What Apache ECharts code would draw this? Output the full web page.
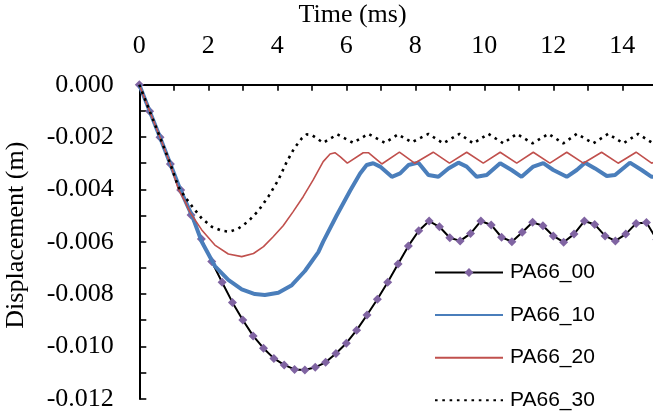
<!DOCTYPE html>
<html>
<head>
<meta charset="utf-8">
<script src="https://cdn.jsdelivr.net/npm/echarts@6/dist/echarts.min.js"></script>
<style>
  html, body { margin: 0; padding: 0; background: #ffffff; }
  #chart { width: 653px; height: 412px; }
</style>
</head>
<body>
<div id="chart"></div>
<script>
// Displacement history of the PA66 specimens (time in ms, displacement in m)
const seriesNames = ['PA66_00', 'PA66_10', 'PA66_20', 'PA66_30'];
const xTickLabels = ['0', '2', '4', '6', '8', '10', '12', '14'];
const yTickLabels = ['0.000', '-0.002', '-0.004', '-0.006', '-0.008', '-0.010', '-0.012'];

const time00 = [0, 0.3, 0.6, 0.9, 1.2, 1.5, 1.8, 2.1, 2.4, 2.7, 3.0, 3.3, 3.6, 3.9, 4.2, 4.5, 4.8,
  5.1, 5.4, 5.7, 6.0, 6.3, 6.6, 6.9, 7.2, 7.5, 7.8, 8.1, 8.4, 8.7, 9.0, 9.3, 9.6, 9.9, 10.2, 10.5,
  10.8, 11.1, 11.4, 11.7, 12.0, 12.3, 12.6, 12.9, 13.2, 13.5, 13.8, 14.1, 14.4, 14.7, 15.0];
const disp00 = [0, -0.00101, -0.00201, -0.00303, -0.00402, -0.00498, -0.00590, -0.00676, -0.00755,
  -0.00832, -0.00899, -0.00960, -0.01007, -0.01046, -0.01071, -0.01088, -0.01090, -0.01080, -0.01061,
  -0.01027, -0.00988, -0.00938, -0.00880, -0.00820, -0.00755, -0.00685, -0.00616, -0.00558, -0.00521,
  -0.00543, -0.00585, -0.00597, -0.00569, -0.00521, -0.00536, -0.00583, -0.00600, -0.00564, -0.00526,
  -0.00539, -0.00578, -0.00602, -0.00571, -0.00521, -0.00534, -0.00578, -0.00597, -0.00571, -0.00530,
  -0.00527, -0.00592];

const time10 = [0, 0.3, 0.6, 0.9, 1.2, 1.54, 1.81, 2.19, 2.58, 2.97, 3.35, 3.64, 4.03, 4.42, 4.8,
  5.19, 5.33, 5.72, 6.11, 6.4, 6.59, 6.78, 6.98, 7.32, 7.56, 7.8, 8.09, 8.38, 8.67, 8.96, 9.25, 9.49,
  9.78, 10.07, 10.46, 10.79, 11.08, 11.42, 11.71, 12.0, 12.39, 12.68, 12.92, 13.21, 13.55, 13.79,
  14.22, 14.56, 14.85, 15];
const disp10 = [0, -0.00101, -0.00201, -0.00303, -0.00405, -0.00504, -0.00600, -0.00693, -0.00746,
  -0.00782, -0.00800, -0.00804, -0.00795, -0.00766, -0.00712, -0.00640, -0.00600, -0.00500, -0.00405,
  -0.00339, -0.00307, -0.00300, -0.00313, -0.00352, -0.00339, -0.00307, -0.00298, -0.00345, -0.00352,
  -0.00320, -0.00298, -0.00313, -0.00352, -0.00345, -0.00300, -0.00326, -0.00352, -0.00313, -0.00300,
  -0.00326, -0.00352, -0.00326, -0.00298, -0.00320, -0.00349, -0.00345, -0.00298, -0.00326, -0.00352,
  -0.00352];

const time20 = [0, 0.3, 0.6, 0.9, 1.13, 1.32, 1.47, 1.81, 2.19, 2.58, 2.97, 3.31, 3.6, 3.88, 4.17,
  4.46, 4.75, 5.04, 5.33, 5.53, 5.67, 5.82, 6.03, 6.49, 6.64, 7.03, 7.54, 7.98, 8.52, 8.99, 9.49,
  9.97, 10.46, 10.94, 11.42, 11.9, 12.39, 12.87, 13.4, 13.88, 14.4, 14.85, 15];
const disp20 = [0, -0.00101, -0.00201, -0.00303, -0.00398, -0.00445, -0.00488, -0.00555, -0.00613,
  -0.00647, -0.00657, -0.00645, -0.00619, -0.00581, -0.00539, -0.00485, -0.00428, -0.00364, -0.00294,
  -0.00265, -0.00260, -0.00275, -0.00300, -0.00260, -0.00260, -0.00303, -0.00258, -0.00300, -0.00258,
  -0.00300, -0.00258, -0.00300, -0.00258, -0.00300, -0.00258, -0.00300, -0.00258, -0.00300, -0.00258,
  -0.00300, -0.00258, -0.00300, -0.00293];

const time30 = [0, 0.3, 0.6, 0.9, 1.13, 1.32, 1.57, 1.81, 2.1, 2.39, 2.61, 2.87, 3.16, 3.45, 3.74,
  4.03, 4.27, 4.49, 4.71, 4.85, 5.0, 5.33, 5.74, 6.2, 6.64, 7.12, 7.5, 7.9, 8.38, 8.81, 9.28, 9.68,
  10.12, 10.55, 10.94, 11.4, 11.86, 12.29, 12.68, 13.16, 13.59, 14.03, 14.46, 14.89, 15];
const disp30 = [0, -0.00101, -0.00201, -0.00303, -0.00390, -0.00428, -0.00472, -0.00511, -0.00543,
  -0.00558, -0.00562, -0.00550, -0.00522, -0.00482, -0.00428, -0.00364, -0.00296, -0.00243, -0.00205,
  -0.00190, -0.00192, -0.00222, -0.00190, -0.00222, -0.00188, -0.00222, -0.00190, -0.00220, -0.00188,
  -0.00224, -0.00188, -0.00224, -0.00188, -0.00224, -0.00188, -0.00224, -0.00188, -0.00224, -0.00188,
  -0.00224, -0.00188, -0.00224, -0.00188, -0.00224, -0.00221];

function pairs(t, v) {
  return t.map(function (x, i) { return [x, v[i]]; });
}

const serif = "'Liberation Serif', 'Times New Roman', serif";
const sans = "'Liberation Sans', Arial, sans-serif";

const chart = echarts.init(document.getElementById('chart'), null, { renderer: 'canvas' });

chart.setOption({
  animation: false,
  backgroundColor: '#ffffff',
  grid: {
    left: 139.3, top: 84.7, right: -3.8, bottom: 13.3,
    containLabel: false,
    outerBoundsMode: 'none'
  },
  legend: {
    orient: 'vertical',
    left: 434,
    top: 262,
    height: 220,
    padding: 0,
    itemWidth: 68,
    itemHeight: 11,
    itemGap: 21.6,
    textStyle: { fontFamily: sans, fontSize: 21, color: '#000000', lineHeight: 21, padding: [0, 0, 0, 2] },
    data: [
      { name: seriesNames[0] },
      { name: seriesNames[1], itemStyle: { opacity: 0 } },
      { name: seriesNames[2], itemStyle: { opacity: 0 } },
      { name: seriesNames[3], itemStyle: { opacity: 0 } }
    ]
  },
  xAxis: {
    type: 'value',
    position: 'top',
    min: 0,
    max: 15,
    interval: 1,
    name: 'Time (ms)',
    nameLocation: 'middle',
    nameGap: 55.5,
    nameTextStyle: { fontFamily: serif, fontSize: 26, color: '#000000', padding: [0, 91, 0, 0] },
    axisLine: { onZero: false, lineStyle: { color: '#000000', width: 2 } },
    axisTick: { inside: true, length: 6, lineStyle: { color: '#000000', width: 1.6 } },
    axisLabel: {
      margin: 25.5,
      fontFamily: serif,
      fontSize: 26,
      color: '#000000',
      formatter: function (v) {
        const s = String(Math.round(v));
        return xTickLabels.indexOf(s) >= 0 && Math.abs(v - Math.round(v)) < 1e-9 ? s : '';
      }
    },
    splitLine: { show: false }
  },
  yAxis: {
    type: 'value',
    min: -0.012,
    max: 0,
    interval: 0.002,
    name: 'Displacement (m)',
    nameLocation: 'middle',
    nameRotate: 90,
    nameGap: 110,
    nameTextStyle: { fontFamily: serif, fontSize: 26, color: '#000000', padding: [0, 0, 0, 13] },
    axisLine: { show: true, onZero: false, lineStyle: { color: '#000000', width: 2 } },
    axisTick: { show: true, inside: true, length: 7, lineStyle: { color: '#000000', width: 1.6 } },
    minorTick: { show: true, splitNumber: 2, length: 7, lineStyle: { color: '#000000', width: 1.6 } },
    axisLabel: {
      margin: 25.5,
      fontFamily: serif,
      fontSize: 26,
      color: '#000000',
      formatter: function (v) {
        const s = (Math.abs(v) < 1e-12 ? 0 : v).toFixed(3);
        return yTickLabels.indexOf(s) >= 0 ? s : '';
      }
    },
    splitLine: { show: false },
    minorSplitLine: { show: false }
  },
  series: [
    {
      name: seriesNames[0],
      type: 'line',
      data: pairs(time00, disp00),
      symbol: 'diamond',
      symbolSize: 9,
      showSymbol: true,
      itemStyle: { color: '#8064A2' },
      lineStyle: { color: '#000000', width: 2 },
      z: 2
    },
    {
      name: seriesNames[1],
      type: 'line',
      data: pairs(time10, disp10),
      symbol: 'none',
      itemStyle: { color: '#4A7EBB' },
      lineStyle: { color: '#4A7EBB', width: 4 },
      z: 3
    },
    {
      name: seriesNames[2],
      type: 'line',
      data: pairs(time20, disp20),
      symbol: 'none',
      itemStyle: { color: '#C0504D' },
      lineStyle: { color: '#C0504D', width: 1.6 },
      z: 4
    },
    {
      name: seriesNames[3],
      type: 'line',
      data: pairs(time30, disp30),
      symbol: 'none',
      itemStyle: { color: '#000000' },
      lineStyle: { color: '#000000', width: 2.6, type: [2.6, 4.7] },
      z: 5
    }
  ]
});
</script>
</body>
</html>
